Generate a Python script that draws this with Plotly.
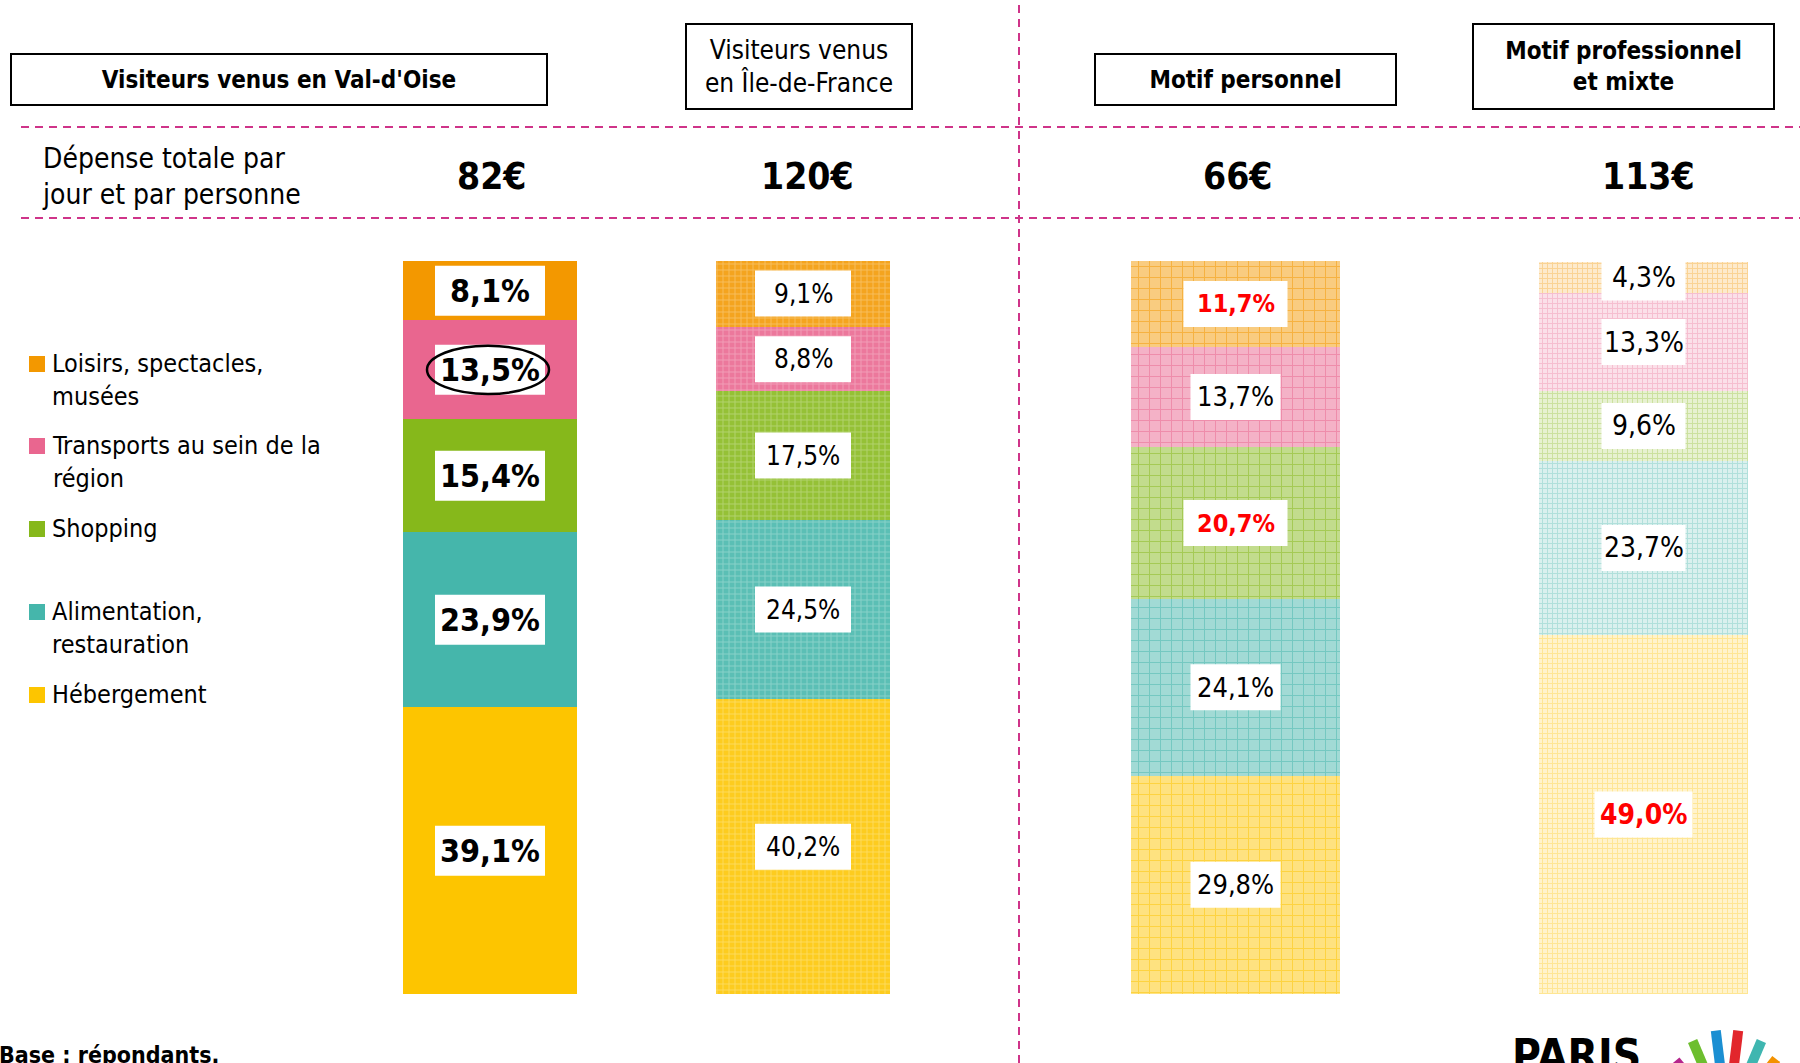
import math
import plotly.graph_objects as go

W, H = 1800, 1063
FONT = "DejaVu Sans Condensed, Liberation Sans Narrow, Roboto, sans-serif"

# --- data ---
groupes = ["Visiteurs venus en Val-d'Oise", "Visiteurs venus<br>en Île-de-France",
           "Motif personnel", "Motif professionnel<br>et mixte"]
depense = [82, 120, 66, 113]
# categories from bottom to top of each bar
categories = ["Hébergement", "Alimentation,<br>restauration", "Shopping",
              "Transports au sein de la<br>région", "Loisirs, spectacles,<br>musées"]
hebergement = [39.1, 40.2, 29.8, 49.0]
alimentation = [23.9, 24.5, 24.1, 23.7]
shopping = [15.4, 17.5, 20.7, 9.6]
transports = [13.5, 8.8, 13.7, 13.3]
loisirs = [8.1, 9.1, 11.7, 4.3]
series = [hebergement, alimentation, shopping, transports, loisirs]
en_rouge = [(2, 4), (2, 2), (3, 0)]   # (bar, category) written in red
entoure = (0, 3)                      # circled label

# --- styling ---
couleurs = ["#FDC500", "#45B6AB", "#86B81B", "#E9668F", "#F39800"]
BAR_X = [490, 803, 1235.5, 1643.5]
BAR_W = [174, 174, 209, 209]
Y_BOT, Y_TOP = 994, 261
PX_PER_PCT = (Y_BOT - Y_TOP) / 100
LAB_SIZE = [32, 26, 27, 28]
LAB_W = [110, 96, 90, 84]
LAB_H = [50, 46, 46, 46]


def mix(c, t):
    r, g, b = int(c[1:3], 16), int(c[3:5], 16), int(c[5:7], 16)
    r, g, b = [round(v + (255 - v) * t) for v in (r, g, b)]
    return "#%02x%02x%02x" % (r, g, b)


def px(x):
    return x / W


def py(y):
    return 1 - y / H


def fmt(v):
    return ("%.1f" % v).replace(".", ",") + "%"


fig = go.Figure()

for k, vals in enumerate(series):
    c = couleurs[k]
    fig.add_trace(go.Bar(
        x=BAR_X, y=vals, width=BAR_W, name=categories[k], showlegend=False,
        marker=dict(
            color=c, line=dict(width=0),
            pattern=dict(
                shape=["", "+", "+", "+"],
                bgcolor=[c, mix(c, 0.12), mix(c, 0.5), mix(c, 0.8)],
                fgcolor=[c, mix(c, 0.6), c, mix(c, 0.35)],
                size=[8, 6, 11, 5],
                solidity=[0.2, 0.3, 0.17, 0.35],
            ),
        ),
        hoverinfo="skip",
    ))

annotations = []
shapes = []
circles = []

# labels inside the bars: white box (shape) + text (annotation)
for g in range(4):
    base = 0
    for k, vals in enumerate(series):
        v = vals[g]
        mid = base + v / 2
        base += v
        red = (g, k) in en_rouge
        bold = g == 0 or red
        size = LAB_SIZE[g]
        if red and g == 2:
            size = 25
        bw = LAB_W[g] + (14 if red else 0)
        bh = LAB_H[g] / PX_PER_PCT
        shapes.append(dict(type="rect", xref="x", yref="y", layer="above",
                           x0=BAR_X[g] - bw / 2, x1=BAR_X[g] + bw / 2,
                           y0=mid - bh / 2, y1=min(mid + bh / 2, 100),
                           fillcolor="white", line=dict(width=0)))
        annotations.append(dict(
            x=BAR_X[g], y=mid, xref="x", yref="y", showarrow=False,
            xanchor="center", yanchor="middle", text=fmt(v),
            font=dict(family=FONT, size=size, color="#FF0000" if red else "black",
                      weight="bold" if bold else "normal"),
        ))
        if (g, k) == entoure:
            circles.append(dict(type="circle", xref="x", yref="y", layer="above",
                                x0=BAR_X[g] - 63, x1=BAR_X[g] + 59,
                                y0=mid - 3.3, y1=mid + 3.3,
                                line=dict(color="black", width=2.5)))
shapes += circles

# header boxes
boxes = [(279, 79.5, 534, 49, True), (799, 66.5, 224, 83, False),
         (1245.5, 79.5, 299, 49, True), (1623.5, 66.5, 299, 83, True)]
for (cx, cy, bw, bh, bold), txt in zip(boxes, groupes):
    annotations.append(dict(
        x=px(cx), y=py(cy), xref="paper", yref="paper", showarrow=False,
        xanchor="center", yanchor="middle",
        text=txt, width=bw, height=bh, borderwidth=2, borderpad=0,
        bordercolor="black", bgcolor="white",
        font=dict(family=FONT, size=24 if bold else 26, color="black",
                  weight="bold" if bold else "normal"),
    ))

# spending row
annotations.append(dict(
    x=px(40), y=py(176), xref="paper", yref="paper", showarrow=False,
    xanchor="left", yanchor="middle", align="left",
    text="Dépense totale par<br>jour et par personne",
    font=dict(family=FONT, size=28, color="black"),
))
for cx, v in zip([492, 807, 1237, 1648], depense):
    annotations.append(dict(
        x=px(cx), y=py(177), xref="paper", yref="paper", showarrow=False,
        xanchor="center", yanchor="middle",
        text="%d€" % v, font=dict(family=FONT, size=37, color="black", weight="bold"),
    ))

# legend
leg_y = [695, 612, 529, 446, 364]
for k in range(5):
    yc = leg_y[k]
    shapes.append(dict(type="rect", xref="paper", yref="paper",
                       x0=px(29), x1=px(45), y0=py(yc + 8), y1=py(yc - 8),
                       fillcolor=couleurs[k], line=dict(width=0)))
    annotations.append(dict(
        x=px(50), y=py(yc - 17), xref="paper", yref="paper", showarrow=False,
        xanchor="left", yanchor="top", align="left", text=categories[k],
        font=dict(family=FONT, size=25, color="black"),
    ))

# dashed separators
dash = dict(color="#CF3489", width=2, dash="8px,6px")
for yy in (127, 218):
    shapes.append(dict(type="line", xref="paper", yref="paper",
                       x0=px(21), x1=1, y0=py(yy), y1=py(yy), line=dash))
shapes.append(dict(type="line", xref="paper", yref="paper",
                   x0=px(1019), x1=px(1019), y0=0, y1=1, line=dash))

# footer
annotations.append(dict(
    x=px(-3), y=py(1040), xref="paper", yref="paper", showarrow=False,
    xanchor="left", yanchor="top", text="Base : répondants.",
    font=dict(family=FONT, size=23, color="black", weight="bold"),
))
annotations.append(dict(
    x=px(1510), y=py(1028), xref="paper", yref="paper", showarrow=False,
    xanchor="left", yanchor="top", text="PARIS",
    font=dict(family=FONT, size=44, color="black", weight="bold"),
))
ray_cols = ["#B5258C", "#6DBE2E", "#1B8FD2", "#E2262C", "#3FB6B0", "#F39200"]
ray_ang = [40, 23, 7, -7, -23, -38]
ray_len = [80, 88, 92, 92, 88, 80]
for col, a, r in zip(ray_cols, ray_ang, ray_len):
    t = math.radians(a)
    cx, cy = 1727, 1122
    x0, y0 = cx - 55 * math.sin(t), cy - 55 * math.cos(t)
    x1, y1 = cx - r * math.sin(t), cy - r * math.cos(t)
    shapes.append(dict(type="line", xref="paper", yref="paper",
                       x0=px(x0), y0=py(y0), x1=px(x1), y1=py(y1),
                       line=dict(color=col, width=10)))

fig.update_layout(
    width=W, height=H, margin=dict(l=0, r=0, t=0, b=0),
    paper_bgcolor="white", plot_bgcolor="white",
    barmode="stack",
    xaxis=dict(visible=False, range=[0, W], domain=[0, 1]),
    yaxis=dict(visible=False, range=[0, 100], domain=[py(Y_BOT), py(Y_TOP)]),
    annotations=annotations, shapes=shapes,
    font=dict(family=FONT),
)

fig.write_html("out.html", config={"displayModeBar": False},
               post_script="document.body.style.margin = '0';")
